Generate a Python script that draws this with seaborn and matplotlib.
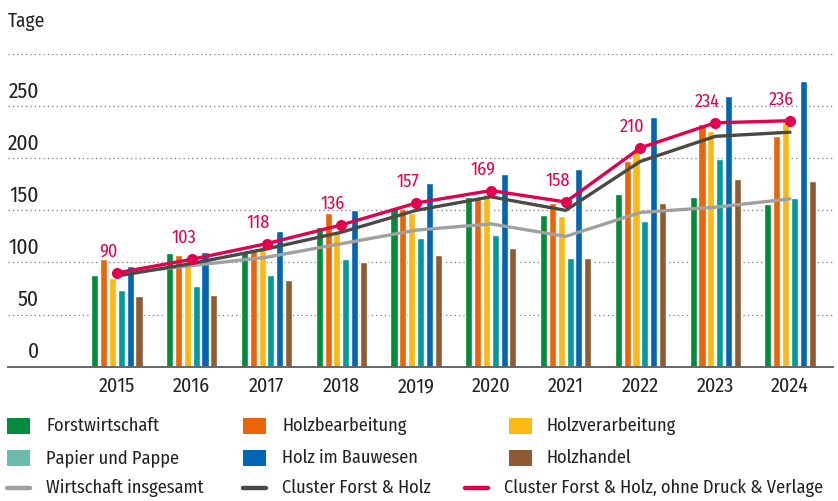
import numpy as np
import pandas as pd
import matplotlib
matplotlib.use("Agg")
import matplotlib.pyplot as plt
from matplotlib.patches import Rectangle
from matplotlib.lines import Line2D
import seaborn as sns

# data
years = ["2015", "2016", "2017", "2018", "2019", "2020", "2021", "2022", "2023", "2024"]
forstwirtschaft = [88, 109, 111, 134, 152, 163, 146, 166, 163, 156]
holzbearbeitung = [103, 107, 113, 147, 151, 163, 157, 197, 233, 221]
holzverarbeitung = [85, 103, 115, 129, 147, 166, 145, 209, 226, 235]
papier_pappe = [74, 77, 88, 103, 123, 126, 104, 140, 199, 162]
holz_bauwesen = [97, 110, 130, 150, 176, 185, 190, 240, 260, 274]
holzhandel = [68, 69, 83, 100, 107, 114, 104, 157, 180, 178]

wirtschaft_gesamt = [89, 97, 105, 118, 131, 137, 125, 148, 153, 161]
cluster = [87, 99, 113, 129, 150, 163, 150, 197, 221, 225]
cluster_ohne = [90, 103, 118, 136, 157, 169, 158, 210, 234, 236]

bar_names = ["Forstwirtschaft", "Holzbearbeitung", "Holzverarbeitung",
             "Papier und Pappe", "Holz im Bauwesen", "Holzhandel"]
bar_cols = ["#008C3A", "#EA6508", "#FDB913", "#009A9A", "#0066B3", "#8E5B34"]
legend_cols = ["#008C3A", "#EA6508", "#FDB913", "#6BBBAE", "#0066B3", "#8E5B34"]
c_gesamt = "#A0A0A0"
c_cluster = "#4A4A44"
c_red = "#E2004F"
txt = "#222222"

sns.set_style("white")
plt.rcParams["font.family"] = ["Fira Sans Condensed", "PT Sans Narrow", "DejaVu Sans"]

rows = []
for name, vals in zip(bar_names, [forstwirtschaft, holzbearbeitung, holzverarbeitung,
                                  papier_pappe, holz_bauwesen, holzhandel]):
    for y, v in zip(years, vals):
        rows.append({"Jahr": y, "Bereich": name, "Tage": v})
df = pd.DataFrame(rows)

W, H = 838, 501
fig = plt.figure(figsize=(W / 100, H / 100), dpi=100)
ax = fig.add_axes([8 / W, 1 - 366.7 / H, 825 / W, (366.7 - 54) / H])

sns.barplot(data=df, x="Jahr", y="Tage", hue="Bereich", order=years,
            hue_order=bar_names, palette=bar_cols, width=0.708, gap=0.2,
            legend=False, ax=ax, saturation=1)

xs = np.arange(len(years))
sns.lineplot(x=xs, y=wirtschaft_gesamt, color=c_gesamt, lw=2.4, ax=ax)
sns.lineplot(x=xs, y=cluster, color=c_cluster, lw=2.4, ax=ax)
sns.lineplot(x=xs, y=cluster_ohne, color=c_red, lw=2.4, marker="o",
             markersize=8, markeredgewidth=0, ax=ax)

for x, v in zip(xs, cluster_ohne):
    ax.annotate(str(v), (x, v), xytext=(-6, 9), textcoords="offset points",
                ha="center", va="bottom", color=c_red, fontsize=13)

ax.set_xlim(-1.457, 9.575)
ax.set_ylim(0, 300)
ax.set_yticks([50, 100, 150, 200, 250, 300])
ax.set_yticklabels([])
ax.tick_params(axis="y", length=0)
ax.tick_params(axis="x", length=0, pad=7, labelsize=14.5, labelcolor=txt)
ax.grid(axis="y", color="#777777", lw=0.9, ls=(0, (1, 2.5)))
ax.set_xlabel("")
ax.set_ylabel("")
for s in ["top", "right", "left"]:
    ax.spines[s].set_visible(False)
ax.spines["bottom"].set_color("#666666")
ax.spines["bottom"].set_linewidth(1.4)

ytr = ax.get_yaxis_transform()
for v in [0, 50, 100, 150, 200, 250]:
    ax.annotate(str(v), (31 / 825, v), xycoords=ytr, xytext=(0, 3),
                textcoords="offset points", ha="right", va="bottom",
                fontsize=15.5, color=txt)

fig.text(8 / W, 1 - 21 / H, "Tage", fontsize=14, color=txt, va="center")

# legend drawn by hand
def fx(px):
    return px / W

def fy(py):
    return 1 - py / H

patch_items = [
    (0, 7, 46, 426), (1, 243, 282, 426), (2, 509, 547, 426),
    (3, 7, 46, 458), (4, 243, 282, 458), (5, 509, 547, 458),
]
for i, x0, tx, yc in patch_items:
    fig.add_artist(Rectangle((fx(x0), fy(yc + 8)), 23 / W, 16 / H,
                             transform=fig.transFigure, color=legend_cols[i], lw=0))
    fig.text(fx(tx), fy(yc), bar_names[i], fontsize=13.2, color=txt, va="center")

line_items = [
    ("Wirtschaft insgesamt", c_gesamt, 7, 46),
    ("Cluster Forst & Holz", c_cluster, 243, 282),
    ("Cluster Forst & Holz, ohne Druck & Verlage", c_red, 465, 504),
]
for name, col, x0, tx in line_items:
    fig.add_artist(Line2D([fx(x0), fx(x0 + 23)], [fy(488), fy(488)],
                          transform=fig.transFigure, color=col, lw=3.2))
    fig.text(fx(tx), fy(488), name, fontsize=13.2, color=txt, va="center")

fig.savefig("out.png", dpi=100)
